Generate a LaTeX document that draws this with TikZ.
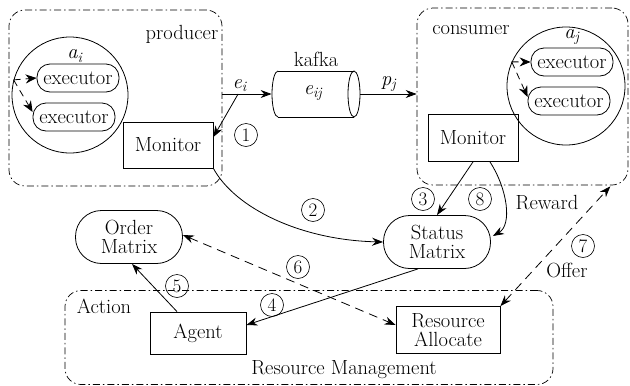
\documentclass[tikz,border=0pt]{standalone}
\usepackage{fontspec}
\usetikzlibrary{arrows.meta,shapes.geometric,calc}
\newcommand\isub[2]{{\itshape #1}\textsubscript{\itshape #2}}
\begin{document}
\begin{tikzpicture}[x=1pt,y=-1pt, line width=0.8pt, font=\fontsize{20.5}{22}\selectfont,
 arr/.style={-{Stealth[length=11pt,width=8pt]}},
 darr/.style={{Stealth[length=11pt,width=8pt]}-{Stealth[length=11pt,width=8pt]}, dash pattern=on 9pt off 6pt},
 sdarr/.style={-{Stealth[length=11pt,width=9pt]}, dash pattern=on 7pt off 5pt},
 group/.style={draw, rounded corners=16pt, dash pattern=on 7pt off 3pt on 1.5pt off 3pt, line width=0.7pt},
 box/.style={draw, rectangle, inner sep=0pt, align=center},
 exec/.style={draw, rectangle, rounded corners=13pt, inner sep=0pt, minimum width=82pt, minimum height=28pt},
 pill/.style={draw, rectangle, rounded corners=26pt, inner sep=0pt, minimum width=107pt, minimum height=53pt, align=center, font=\fontsize{20.5}{19}\selectfont},
 num/.style={draw, circle, inner sep=0pt, minimum size=23pt, font=\fontsize{19}{19}\selectfont, line width=0.6pt},
]
\useasboundingbox (0,0) rectangle (630,386);

% groups
\node[group, minimum width=213pt, minimum height=176pt] (prod) at (115.5,98) {};
\node[group, minimum width=211pt, minimum height=177pt] (cons) at (522.5,96.5) {};
\node[group, minimum width=488pt, minimum height=94pt] (rm) at (309,337.5) {};
\node (lprod) at (182,34) {producer};
\node (lcons) at (471,30) {consumer};
\node (lact) at (104,306) {Action};
\node (lrm) at (344,370) {Resource Management};

% producer internals
\node[draw, circle, inner sep=0pt, minimum size=116pt] (ci) at (70,95) {};
\node (lai) at (75,56) {\isub{a}{i}};
\node[exec] (x1) at (78,78) {executor};
\node[exec] (x2) at (74,117) {executor};
\draw[sdarr] (ci.165) -- (x1.west);
\draw[sdarr] (ci.165) -- ($(x2.west)+(0,-5)$);
\node[box, minimum width=90pt, minimum height=46pt] (m1) at (168,145) {Monitor};

% consumer internals
\node[draw, circle, inner sep=0pt, minimum size=118pt] (cj) at (566,86) {};
\node (laj) at (572,37) {\isub{a}{j}};
\node[exec] (x3) at (572,62) {executor};
\node[exec] (x4) at (569,101) {executor};
\draw[sdarr] (cj.156) -- (x3.west);
\draw[sdarr] (cj.156) -- ($(x4.west)+(0,-4)$);
\node[box, minimum width=90pt, minimum height=47pt] (m2) at (473,138) {Monitor};

% kafka cylinder
\node[inner sep=0pt, minimum width=88pt, minimum height=46pt] (kaf) at (316,94) {};
\draw (278,71) -- (354,71) (278,117) -- (354,117);
\draw (354,94) ellipse [x radius=6pt, y radius=23pt];
\draw (278,71) arc [start angle=90, end angle=270, x radius=6pt, y radius=23pt];
\node (eij) at (313,93) {\isub{e}{ij}};
\node (lkaf) at (316,59) {kafka};

% middle nodes
\node[pill] (sm) at (437,242) {Status\\Matrix};
\node[pill] (om) at (129,237) {Order\\Matrix};
\node[box, minimum width=96pt, minimum height=42pt] (ag) at (198,333) {Agent};
\node[box, minimum width=104pt, minimum height=47pt, font=\fontsize{20.5}{19}\selectfont] (ra) at (448,330) {Resource\\Allocate};

% connectors
\draw[arr] (prod.east |- kaf.west) -- node[above, pos=0.35, yshift=-1pt] {\isub{e}{i}} (kaf.west);
\coordinate (ej) at ($(prod.east |- kaf.west)!0.32!(kaf.west)$);
\draw[arr] (ej) -- ($(m1.east)+(0,-8)$);
\node[num] (n1) at (246,135) {1};
\draw[arr] (kaf.east) -- node[above, yshift=-1pt] {\isub{p}{j}} (kaf.east -| cons.west);

\draw[arr] (m1.south east) .. controls (235,208) and (300,240) .. (sm.west);
\node[num] (n2) at (313,210) {2};

\draw[arr] (m2.south) -- (sm.north);
\node[num] (n3) at (423,199) {3};
\draw[arr] ($(m2.south)+(17,0)$) .. controls (508,190) and (512,225) .. ($(sm.east)+(2,-6)$);
\node[num] (n8) at (480,199) {8};
\node (lrew) at (547,203) {Reward};

\draw[darr] (ra.north east) -- ($(cons.south east)+(-18,1)$);
\node[num] (n7) at (583,246) {7};
\node (loff) at (567,270) {Offer};

\draw[arr] ($(sm.south)+(-19,0)$) -- ($(ag.east)+(0,-8)$);
\node[num] (n4) at (272,305) {4};

\draw[arr] ($(ag.north)+(-21,0)$) -- ($(om.south)+(3,0)$);
\node[num] (n5) at (177,286) {5};

\draw[darr] ($(om.east)+(0,-2)$) -- ($(ra.west)+(0,-5)$);
\node[num] (n6) at (298,267) {6};
\end{tikzpicture}
\end{document}
